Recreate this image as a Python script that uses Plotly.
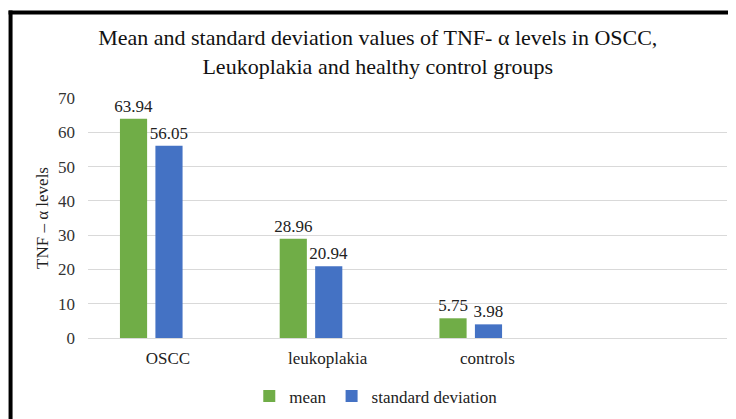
import plotly.graph_objects as go

categories = ["OSCC", "leukoplakia", "controls"]
mean_values = [63.94, 28.96, 5.75]
sd_values = [56.05, 20.94, 3.98]
series_names = ["mean", "standard deviation"]
y_ticks = [0, 10, 20, 30, 40, 50, 60, 70]

# page body has an 8px margin, so the figure is drawn 8px in from the window edge
SHIFT = 8
W, H = 736 - SHIFT, 419 - SHIFT
L, R, T, B = 80, 8.5, 90.3, 81.3
PW, PH = W - L - R, H - T - B

def px_x(sx):
    return (sx - SHIFT - L) / PW

def px_y(sy):
    return (H - B - (sy - SHIFT)) / PH

FONT = "Liberation Serif, Times New Roman, serif"
GREEN = "#70ad47"
BLUE = "#4472c4"

fig = go.Figure()
fig.add_trace(go.Bar(
    x=categories, y=mean_values, name=series_names[0],
    marker=dict(color=GREEN, line=dict(width=0)),
    offset=-0.30, width=0.17,
    text=[f"{v:.2f}" for v in mean_values], textposition="outside",
    constraintext="none",
    textfont=dict(family=FONT, size=17, color="#222"), cliponaxis=False,
))
fig.add_trace(go.Bar(
    x=categories, y=sd_values, name=series_names[1],
    marker=dict(color=BLUE, line=dict(width=0)),
    offset=-0.078, width=0.17,
    text=[f"{v:.2f}" for v in sd_values], textposition="outside",
    constraintext="none",
    textfont=dict(family=FONT, size=17, color="#222"), cliponaxis=False,
))

fig.update_layout(
    width=W, height=H,
    margin=dict(l=L, r=R, t=T, b=B, autoexpand=False),
    paper_bgcolor="white", plot_bgcolor="white",
    font=dict(family=FONT, size=17, color="#222"),
    title=dict(
        text="Mean and standard deviation values of TNF- α levels in OSCC,<br>Leukoplakia and healthy control groups",
        x=px_x(378), xref="paper", xanchor="center",
        y=1 - 37 / H, yref="container", yanchor="middle",
        font=dict(family=FONT, size=22, color="#111"),
    ),
    showlegend=True,
    legend=dict(
        orientation="h", x=px_x(376), xanchor="center",
        y=px_y(396), yanchor="middle",
        font=dict(family=FONT, size=17, color="#222"),
        itemwidth=30, bgcolor="rgba(0,0,0,0)",
    ),
    barmode="overlay",
    xaxis=dict(
        type="category", categoryorder="array",
        categoryarray=categories + [" "],
        range=[-0.5, 3.5], showgrid=False, zeroline=False,
        showline=False, ticks="", ticklabelstandoff=8,
        tickfont=dict(family=FONT, size=17, color="#222"),
    ),
    yaxis=dict(
        range=[0, 70], tickvals=y_ticks, showgrid=True,
        gridcolor="#d9d9d9", gridwidth=1, zeroline=True,
        zerolinecolor="#d9d9d9", zerolinewidth=1,
        showline=False, ticks="", ticklabelstandoff=12,
        tickfont=dict(family=FONT, size=17, color="#333"),
        title=dict(text="TNF – α levels", standoff=5,
                   font=dict(family=FONT, size=17, color="#222")),
    ),
    shapes=[
        dict(type="line", xref="paper", yref="paper",
             x0=px_x(10.5), x1=px_x(10.5), y0=px_y(11), y1=px_y(430),
             line=dict(color="black", width=4)),
        dict(type="line", xref="paper", yref="paper",
             x0=px_x(8.5), x1=px_x(745), y0=px_y(13), y1=px_y(13),
             line=dict(color="black", width=4)),
    ],
)

fig.write_html("out.html")
